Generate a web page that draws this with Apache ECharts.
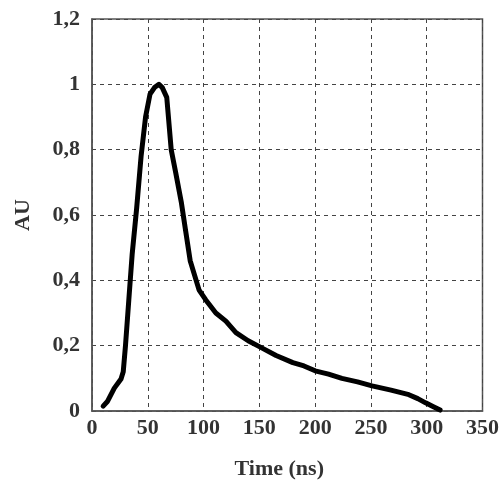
<!DOCTYPE html>
<html><head><meta charset="utf-8">
<script src="https://cdn.jsdelivr.net/npm/echarts@6/dist/echarts.min.js"></script>
<style>html,body{margin:0;padding:0;background:#fff}#c{width:502px;height:485px}</style>
</head><body><div id="c"></div>
<script>
var timeNs = [10, 14, 20, 26, 28, 30, 33, 36, 40, 44, 48, 52, 56, 60, 63, 67, 71, 75, 80, 84, 88, 96, 102, 111, 120, 129, 140, 150, 165, 180, 190, 200, 212, 224, 238, 251, 268, 284, 292, 299, 306, 312];
var au =     [0.015, 0.03, 0.07, 0.098, 0.12, 0.2, 0.34, 0.48, 0.62, 0.78, 0.9, 0.97, 0.99, 1.0, 0.99, 0.96, 0.8, 0.73, 0.64, 0.55, 0.46, 0.37, 0.34, 0.30, 0.275, 0.24, 0.215, 0.197, 0.17, 0.148, 0.138, 0.123, 0.113, 0.1, 0.089, 0.077, 0.064, 0.05, 0.038, 0.025, 0.013, 0.003];
var xTicks = [0, 50, 100, 150, 200, 250, 300, 350];
var yTicks = [0, 0.2, 0.4, 0.6, 0.8, 1, 1.2];

var pts = timeNs.map(function(t, i){ return [t, au[i]]; });
var chart = echarts.init(document.getElementById('c'), null, {renderer:'canvas'});
var font = '"Liberation Serif", "DejaVu Serif", serif';
chart.setOption({
  animation: false,
  backgroundColor: '#fff',
  grid: {left: 92, right: 18, top: 19, bottom: 74, show: true, borderColor: '#555', borderWidth: 1.5},
  xAxis: {
    type: 'value', min: xTicks[0], max: xTicks[xTicks.length-1], interval: 50,
    name: 'Time (ns)', nameLocation: 'middle', nameGap: 47,
    nameTextStyle: {fontFamily: font, fontWeight: 'bold', fontSize: 22, color: '#333', padding: [0, 16, 0, 0]},
    axisLine: {show: true, lineStyle: {color: '#555', width: 1.5}},
    axisTick: {show: false},
    axisLabel: {fontFamily: font, fontWeight: 'bold', fontSize: 22, color: '#333', margin: 6},
    splitLine: {show: true, lineStyle: {color: '#444', type: [4, 4], width: 1}}
  },
  yAxis: {
    type: 'value', min: 0, max: 1.2, interval: 0.2,
    name: 'AU', nameLocation: 'middle', nameGap: 58,
    nameTextStyle: {fontFamily: font, fontWeight: 'bold', fontSize: 22, color: '#333'},
    axisLine: {show: true, lineStyle: {color: '#555', width: 1.5}},
    axisTick: {show: false},
    axisLabel: {fontFamily: font, fontWeight: 'bold', fontSize: 22, color: '#333', margin: 12,
      formatter: function(v){ return (Math.round(v*10)/10).toString().replace('.', ','); }},
    splitLine: {show: true, lineStyle: {color: '#444', type: [4, 4], width: 1}}
  },
  series: [{
    type: 'line', data: pts, showSymbol: false, smooth: false,
    lineStyle: {color: '#000', width: 5, cap: 'round', join: 'round'}
  }]
});
</script></body></html>
